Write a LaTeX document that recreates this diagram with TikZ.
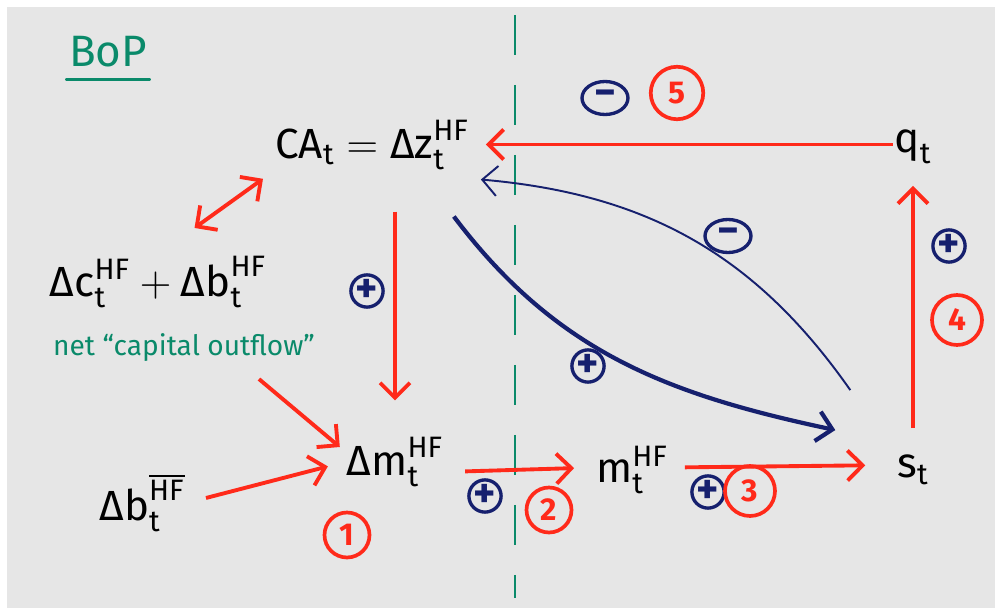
\documentclass[tikz,border=0pt]{standalone}
\usepackage{amsmath}
\usepackage{fontspec}
\setmainfont{Fira Sans}
\usepackage{xcolor}
\usetikzlibrary{arrows.meta,shapes.geometric}

\definecolor{board}{HTML}{E6E6E6}
\definecolor{penred}{HTML}{FF2A1A}
\definecolor{pennavy}{HTML}{16206E}
\definecolor{penteal}{HTML}{0A8A6A}

\begin{document}
\begin{tikzpicture}[x=0.02cm, y=-0.02cm]
    \tikzstyle{lab} = [inner sep=1pt, font=\fontsize{24}{28}\selectfont]
    \tikzstyle{note} = [inner sep=1pt, text=penteal, font=\fontsize{16}{18}\selectfont]
    \tikzstyle{redarr} = [draw=penred, line width=2.2pt, -{Straight Barb[length=3mm,width=6mm]}]
    \tikzstyle{bluearr} = [draw=pennavy, -{Straight Barb[length=3mm,width=6mm]}]
    \tikzstyle{sign} = [circle, draw=pennavy, line width=1.9pt, text=pennavy, minimum size=6.4mm, inner sep=0pt, font=\bfseries\fontsize{24}{24}\selectfont]
    \tikzstyle{minus} = [sign, ellipse, minimum width=9.2mm, minimum height=6.6mm]
    \tikzstyle{num} = [circle, draw=penred, line width=2.1pt, text=penred, minimum size=9mm, inner sep=0pt, font=\bfseries\fontsize{18}{18}\selectfont]

    \useasboundingbox (0,0) rectangle (995,608);
    \fill[board] (7,7) rectangle (995,608);

    % divider
    \draw[penteal, line width=1.3pt, dash pattern=on 0.8cm off 0.6cm] (515,15) -- (515,598);

    % title
    \node[lab, text=penteal, font=\fontsize{25}{28}\selectfont] (bop) at (108,52) {BoP};
    \draw[penteal, line width=2.2pt, line cap=round] ([yshift=-0.2cm]bop.south west) -- ([yshift=-0.2cm]bop.south east);

    % variables
    \node[lab] (ca) at (372,145) {$\text{CA}_\text{t} = \text{Δz}_\text{t}^\text{HF}$};
    \node[lab] (q) at (913,147) {$\text{q}_\text{t}$};
    \node[lab] (dc) at (158,282) {$\text{Δc}_\text{t}^\text{HF} + \text{Δb}_\text{t}^\text{HF}$};
    \node[note] (out) at (184,348) {net ``capital outflow''};
    \node[lab] (dm) at (395,462) {$\text{Δm}_\text{t}^\text{HF}$};
    \node[lab] (bb) at (142,503) {$\text{Δb}_\text{t}^{\overline{\text{HF}}}$};
    \node[lab] (m) at (632,470) {$\text{m}_\text{t}^\text{HF}$};
    \node[lab] (s) at (913,470) {$\text{s}_\text{t}$};

    % red links
    \draw[redarr, shorten >=0.3cm] ([yshift=0.05cm]q.west) -- ([yshift=0.05cm]q.west -| ca.east);
    \draw[redarr, {Straight Barb[length=3mm,width=6mm]}-{Straight Barb[length=3mm,width=6mm]}, shorten <=0.9cm, shorten >=0.25cm] (dc.north) -- (ca.south west);
    \draw[redarr, shorten <=0.8cm, shorten >=0.7cm] (ca.south -| dm.north) -- (dm.north);
    \draw[redarr] ([xshift=1.5cm,yshift=-0.3cm]out.south) -- ([xshift=-0.1cm,yshift=0.3cm]dm.west);
    \draw[redarr, shorten <=0.4cm, shorten >=0.35cm] (bb.east) -- (dm.west);
    \draw[redarr, shorten <=0.4cm, shorten >=0.4cm] ([yshift=-0.2cm]dm.east) -- ([yshift=0.05cm]m.west);
    \draw[redarr, shorten <=0.3cm, shorten >=0.6cm] ([yshift=0.05cm]m.east) -- ([yshift=0.1cm]s.west);
    \draw[redarr, shorten <=0.5cm, shorten >=0.4cm] (s.north) -- (q.south);

    % blue links
    \draw[bluearr, line width=2.4pt] ([xshift=-0.34cm,yshift=-0.9cm]ca.south east) to[out=-53, in=168] ([xshift=-1.2cm,yshift=0.46cm]s.north west);
    \draw[bluearr, line width=1.1pt] ([xshift=-0.9cm,yshift=1.26cm]s.north west) to[out=125, in=-5] ([xshift=0.2cm,yshift=-0.16cm]ca.south east);

    % signs
    \node[sign] (p1) at (367,291) {+};
    \node[minus] (n1) at (605,98) {−};
    \node[minus] (n2) at (728,236) {−};
    \node[sign] (p2) at (588,366) {+};
    \node[sign, minimum size=5.8mm] (p3) at (485,496) {+};
    \node[sign] (p4) at (708,492) {+};
    \node[sign] (p5) at (949,246) {+};

    % steps
    \node[num] (s1) at (347,535) {1};
    \node[num] (s2) at (549,510) {2};
    \node[num, minimum size=10mm] (s3) at (750,491) {3};
    \node[num, minimum size=10mm] (s4) at (957,320) {4};
    \node[num, minimum size=10.5mm] (s5) at (677,93) {5};
\end{tikzpicture}
\end{document}
